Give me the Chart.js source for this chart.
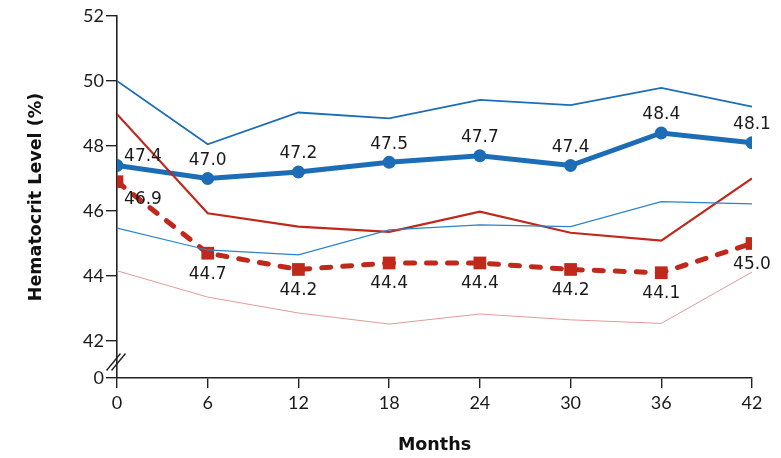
<!DOCTYPE html>
<html>
<head>
<meta charset="utf-8">
<script src="https://cdn.jsdelivr.net/npm/chart.js@4/dist/chart.umd.min.js"></script>
<style>
  html, body { margin: 0; padding: 0; background: #fff; }
  #wrap { width: 781px; height: 458px; }
</style>
</head>
<body>
<div id="wrap"><canvas id="c" width="781" height="458"></canvas></div>
<script>
// Months of follow-up
const months = [0, 6, 12, 18, 24, 30, 36, 42];

// Hematocrit (%) — blue group: mean with upper and lower band
const blueMean  = [47.4, 47.0, 47.2, 47.5, 47.7, 47.4, 48.4, 48.1];
const blueUpper = [50.0, 48.05, 49.03, 48.85, 49.42, 49.26, 49.79, 49.21];
const blueLower = [45.47, 44.8, 44.65, 45.42, 45.57, 45.52, 46.29, 46.22];

// Hematocrit (%) — red group: mean with upper and lower band
const redMean  = [46.9, 44.7, 44.2, 44.4, 44.4, 44.2, 44.1, 45.0];
const redUpper = [48.98, 45.93, 45.52, 45.36, 45.98, 45.33, 45.09, 47.0];
const redLower = [44.16, 43.35, 42.86, 42.52, 42.83, 42.65, 42.54, 44.12];

// Y-axis tick labels; the axis is broken between 0 and 42
const yTickLabels = [0, 42, 44, 46, 48, 50, 52];
const xTickLabels = [0, 6, 12, 18, 24, 30, 36, 42];

// Position on the broken axis where "0" is drawn
const AXIS_FLOOR = 40.86;

const pts = arr => months.map((m, i) => ({ x: m, y: arr[i] }));

const BLUE = '#1c6db5';
const RED = '#c0281c';

// Value labels for the two mean series
const valueLabels = {
  id: 'valueLabels',
  afterDatasetsDraw(chart) {
    const ctx = chart.ctx;
    ctx.save();
    ctx.font = '17px "DejaVu Sans", sans-serif';
    ctx.fillStyle = '#1a1a1a';
    ctx.textAlign = 'center';
    ctx.textBaseline = 'middle';
    chart.data.datasets.forEach((ds, di) => {
      if (!ds.labelSide) return;
      const meta = chart.getDatasetMeta(di);
      meta.data.forEach((el, i) => {
        const v = ds.data[i].y;
        let dx = 0, dy = ds.labelSide === 'above' ? -18 : 21;
        if (i === 0) {
          dx = 26;
          if (ds.labelSide === 'above') dy = -9;
          else dy = 18;
        }
        ctx.fillText(v.toFixed(1), el.x + dx, el.y + dy);
      });
    });
    ctx.restore();
  }
};

// Break marks on the y axis between 0 and 42
const axisBreak = {
  id: 'axisBreak',
  afterDraw(chart) {
    const ctx = chart.ctx;
    const x = chart.scales.x.left;
    const y = (chart.scales.y.getPixelForValue(AXIS_FLOOR) + chart.scales.y.getPixelForValue(42)) / 2 + 2;
    ctx.save();
    ctx.strokeStyle = '#222';
    ctx.lineWidth = 1.4;
    [-2.5, 2.5].forEach(o => {
      ctx.beginPath();
      ctx.moveTo(x - 8 + o, y + 9);
      ctx.lineTo(x + 6 + o, y - 8);
      ctx.stroke();
    });
    ctx.restore();
  }
};

const thin = (data, color, width) => ({
  data: pts(data), borderColor: color, borderWidth: width,
  pointRadius: 0, tension: 0, fill: false
});

const titleFont = { family: '"DejaVu Sans", sans-serif', size: 17.5, weight: 'bold' };

new Chart(document.getElementById('c'), {
  type: 'line',
  data: {
    datasets: [
      thin(redLower, '#e29a98', 1),
      thin(blueLower, '#2a84c8', 1.2),
      thin(blueUpper, BLUE, 1.8),
      thin(redUpper, RED, 2.2),
      {
        data: pts(redMean), borderColor: RED, backgroundColor: RED,
        borderWidth: 5, borderDash: [9, 12], borderCapStyle: 'round',
        pointStyle: 'rect', pointRadius: 9, pointBorderWidth: 0,
        tension: 0, fill: false, labelSide: 'below'
      },
      {
        data: pts(blueMean), borderColor: BLUE, backgroundColor: BLUE,
        borderWidth: 5, pointStyle: 'circle', pointRadius: 6.5, pointBorderWidth: 0,
        tension: 0, fill: false, labelSide: 'above'
      }
    ]
  },
  options: {
    responsive: false,
    animation: false,
    devicePixelRatio: 1,
    layout: { padding: { top: 16, right: 29, bottom: 0, left: 0 } },
    plugins: { legend: { display: false }, tooltip: { enabled: false } },
    scales: {
      x: {
        type: 'linear', min: 0, max: 42,
        afterBuildTicks: s => { s.ticks = xTickLabels.map(v => ({ value: v })); },
        afterFit: s => { s.height = 80; },
        grid: { display: true, drawOnChartArea: false, drawTicks: true, tickLength: 10, color: '#222', lineWidth: 1.4 },
        border: { display: true, color: '#222', width: 1.6 },
        ticks: { color: '#1a1a1a', font: { family: 'Lato', size: 18 }, padding: 4, maxRotation: 0 },
        title: { display: true, text: 'Months', color: '#111', font: titleFont, padding: { top: 6, bottom: 2 } }
      },
      y: {
        type: 'linear', min: AXIS_FLOOR, max: 52,
        afterBuildTicks: s => { s.ticks = yTickLabels.map(v => ({ value: v === 0 ? AXIS_FLOOR : v })); },
        afterFit: s => { s.width = 117; },
        grid: { display: true, drawOnChartArea: false, drawTicks: true, tickLength: 11, color: '#222', lineWidth: 1.4 },
        border: { display: true, color: '#222', width: 1.6 },
        ticks: {
          color: '#1a1a1a', font: { family: 'Lato', size: 18 }, padding: 2,
          callback: v => (v === AXIS_FLOOR ? '0' : String(v))
        },
        title: { display: true, text: 'Hematocrit Level (%)', color: '#111', font: titleFont, padding: { top: 26, bottom: 0 } }
      }
    }
  },
  plugins: [valueLabels, axisBreak]
});
</script>
</body>
</html>
